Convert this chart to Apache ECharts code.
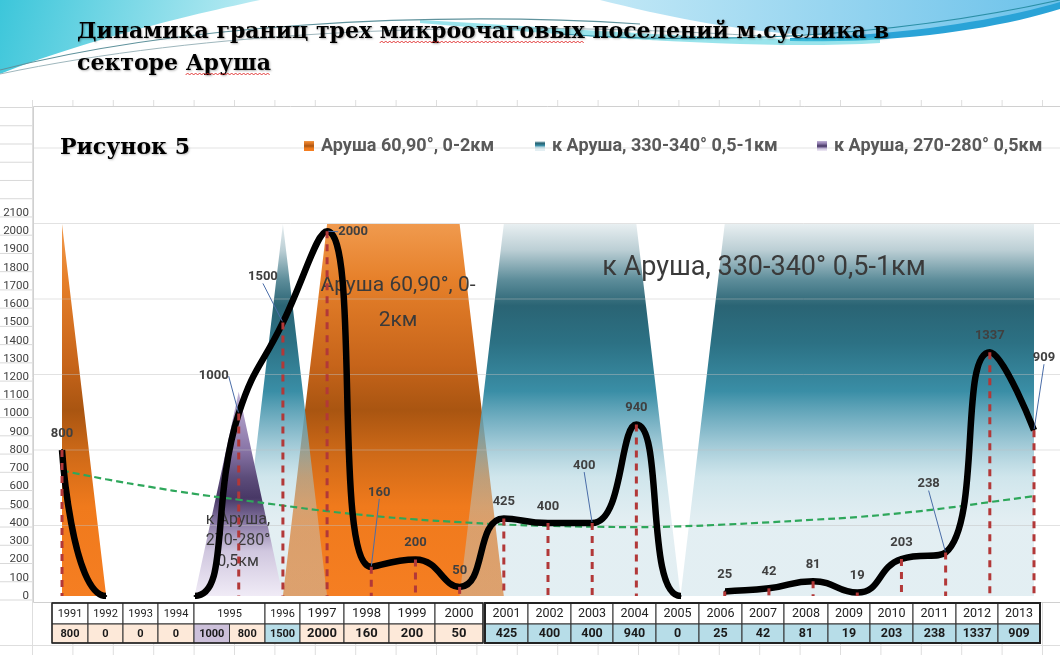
<!DOCTYPE html>
<html><head><meta charset="utf-8">
<script src="https://cdn.jsdelivr.net/npm/echarts@6.0.0/dist/echarts.min.js"></script>
<style>html,body{margin:0;padding:0;background:#fff}#c{width:1060px;height:655px}</style>
</head><body><div id="c"></div>
<script>
// ---------------- DATA ----------------
const titleLines = ['Динамика границ трех микроочаговых поселений м.суслика в', 'секторе Аруша'];
const figureLabel = 'Рисунок 5';
const years = ['1991','1992','1993','1994','1995','1996','1997','1998','1999','2000','2001','2002','2003','2004','2005','2006','2007','2008','2009','2010','2011','2012','2013'];
// boundary of settlements (black curve)
const borderValues = [800,0,0,0,1000,1500,2000,160,200,50,425,400,400,940,0,25,42,81,19,203,238,1337,909];
// polynomial trend (green dashed)
const trendValues = [688,640,598,560,528,496,465,440,420,405,392,385,380,378,382,392,404,418,433,455,482,515,548];
// settlement zones (area shapes)
const orangeZone = [2040,0,0,0,0,0,2040,2040,2040,2040,0,0,0,0,0,0,0,0,0,0,0,0,0];
const tealZone   = [0,0,0,0,0,2040,0,0,0,0,2040,2040,2040,2040,0,2040,2040,2040,2040,2040,2040,2040,2040];
const purpleZone = [0,0,0,0,1120,0,0,0,0,0,0,0,0,0,0,0,0,0,0,0,0,0,0];
const seriesNames = ['Аруша 60,90°, 0-2км', 'к Аруша, 330-340° 0,5-1км', 'к Аруша, 270-280° 0,5км'];
const zoneCaptions = ['Аруша 60,90°, 0-\n2км', 'к Аруша, 330-340° 0,5-1км', 'к Аруша,\n270-280°\n0,5км'];
// data table below the chart
const tableValues = [[800],[0],[0],[0],[1000,800],[1500],[2000],[160],[200],[50],[425],[400],[400],[940],[0],[25],[42],[81],[19],[203],[238],[1337],[909]];
const tableZones  = [['o'],['o'],['o'],['o'],['p','o'],['t'],['o'],['o'],['o'],['o'],['t'],['t'],['t'],['t'],['t'],['t'],['t'],['t'],['t'],['t'],['t'],['t'],['t']];
const yMin = 0, yMax = 2100, yStep = 100;

// ---------------- LAYOUT / STYLE ----------------
const colEdges = [52,88,123,158,194,265,300,344,389,435,483,528,571,613,656,699,742,784,828,870,913,956,998,1040];
const table2Start = 10;
const labelShift = {4:[-25,-21],5:[-20,-29],6:[26,17],7:[8,-58],12:[-8,-41],20:[-17,-52],22:[10,-56]};
const leaderIdx = [4,5,6,7,12,20,22];
// stretches of the curve hidden along the baseline (as in the original picture), in category-index units
const hiddenStretches = [[1.05,3.0],[14.05,14.55]];
const zoneFill = {o:'#fde9d9', p:'#ccc0da', t:'#b7dde8'};
const calibri = 'Roboto, "Liberation Sans", sans-serif';
const serifName = '"DejaVu Serif", "Liberation Serif", serif';
const titleSize = 22, titleLeft = 72, titleTop = 11, titleLH = 32;

const grad = (stops) => new echarts.graphic.LinearGradient(0,0,0,1, stops.map(s=>({offset:s[0], color:s[1]})));
const orangeGrad = grad([[0,'#f09a4e'],[0.15,'#e6802a'],[0.38,'#c6641a'],[0.5,'#a95511'],[0.62,'#cf6a18'],[0.76,'#f07a1c'],[1,'#f57e22']]);
const tealGrad = grad([[0,'#e8eff1'],[0.07,'#bccfd5'],[0.15,'#5d8d9a'],[0.22,'#2a6474'],[0.32,'#2c7184'],[0.45,'#3a8ea6'],[0.56,'rgba(110,172,192,0.8)'],[0.68,'rgba(160,204,217,0.5)'],[0.8,'rgba(185,214,224,0.4)'],[1,'rgba(185,214,224,0.4)']]);
const purpleGrad = grad([[0,'#c2b4d8'],[0.28,'#8a76a8'],[0.42,'#5c4c7a'],[0.52,'#483866'],[0.64,'#8878a4'],[0.78,'#d0c7df'],[1,'#f0ebf6']]);

function bez(p0,p1,p2,p3,n){const pts=[];for(let k=0;k<=n;k++){const t=k/n,u=1-t;pts.push([u*u*u*p0[0]+3*u*u*t*p1[0]+3*u*t*t*p2[0]+t*t*t*p3[0], u*u*u*p0[1]+3*u*u*t*p1[1]+3*u*t*t*p2[1]+t*t*t*p3[1]]);}return pts;}

const graphics = [];
// slide decoration (top swooshes)
graphics.push({type:'polygon', z:0, shape:{points:[[0,0],[260,0]].concat(bez([260,0],[175,18],[75,44],[0,74],30))},
  style:{fill:new echarts.graphic.LinearGradient(0,0,1,1,[{offset:0,color:'#3cc6da'},{offset:1,color:'#c4eef5'}])}});
graphics.push({type:'polygon', z:0, shape:{points:[[600,0],[1060,0],[1060,4]].concat(bez([1060,4],[1000,22],[930,36],[850,36],20)).concat(bez([850,36],[760,36],[680,20],[600,0],20))},
  style:{fill:new echarts.graphic.LinearGradient(0,0,1,0,[{offset:0,color:'#c2e8f6'},{offset:1,color:'#6cc2ea'}])}});
graphics.push({type:'polygon', z:0, shape:{points:bez([790,38],[900,36],[1000,20],[1060,2],20).concat(bez([1060,9],[1000,28],[900,44],[790,41],20))}, style:{fill:'#2aa3d7'}});
graphics.push({type:'polygon', z:0, shape:{points:bez([420,20],[600,30],[760,44],[880,37],20).concat(bez([880,43],[760,50],[600,38],[420,23],20))}, style:{fill:'rgba(70,205,220,0.55)'}});
graphics.push({type:'bezierCurve', z:0, shape:{x1:0,y1:70,cpx1:170,cpy1:26,cpx2:420,cpy2:10,x2:640,y2:24}, style:{stroke:'#5f929c',lineWidth:1.2,fill:null}});
graphics.push({type:'bezierCurve', z:0, shape:{x1:0,y1:74,cpx1:200,cpy1:32,cpx2:470,cpy2:18,x2:760,y2:36}, style:{stroke:'#9fb7bd',lineWidth:1,fill:null}});
graphics.push({type:'bezierCurve', z:0, shape:{x1:560,y1:34,cpx1:700,cpy1:44,cpx2:880,cpy2:40,x2:1060,y2:0}, style:{stroke:'#2b8fa6',lineWidth:1.2,fill:null}});

// spell-check squiggles under two title words
(function(){
  const ctx = document.createElement('canvas').getContext('2d');
  ctx.font = 'bold ' + titleSize + 'px ' + serifName;
  const marks = [[0,'Динамика границ трех ','микроочаговых'],[1,'секторе ','Аруша']];
  marks.forEach(m=>{
    const x0 = titleLeft + 5 + ctx.measureText(m[1]).width, w = ctx.measureText(m[2]).width;
    const y = titleTop + 5 + titleLH*m[0] + titleLH/2 + 10;
    const pts = []; for (let x=0, k=0; x<=w; x+=2, k++) pts.push([x0+x, y + (k%2 ? -1 : 1)]);
    graphics.push({type:'polyline', z:7, shape:{points:pts}, style:{stroke:'#e02828', lineWidth:0.9, fill:null}});
  });
})();

// spreadsheet background
for (let k=0;k<27;k++){ const x = 32.5 + k*40.4; graphics.push({type:'line', z:0, shape:{x1:x,y1:100,x2:x,y2:655}, style:{stroke:'#dedede',lineWidth:1}}); }
for (let k=0;k<=27;k++){ const y = 600 - k*18.24; graphics.push({type:'line', z:0, shape:{x1:0,y1:y,x2:32,y2:y}, style:{stroke:'#d9d9d9',lineWidth:1}}); }
graphics.push({type:'line', z:0, shape:{x1:0,y1:645.5,x2:1060,y2:645.5}, style:{stroke:'#dedede',lineWidth:1}});
// chart box
graphics.push({type:'rect', z:1, shape:{x:33.5,y:106.5,width:1040,height:496}, style:{fill:'#ffffff',stroke:'#d0d0d0',lineWidth:1}});
// faint cell lines seen across the chart
for (let k=0;k<6;k++){ const y = 148 + k*75.5; graphics.push({type:'line', z:3, shape:{x1:34,y1:y,x2:1060,y2:y}, style:{stroke:'rgba(190,190,190,0.45)',lineWidth:1}}); }

// zone captions
const capPos = [[398,303,21,35],[764,268,27,30],[238,541,16,21]];
zoneCaptions.forEach((t,i)=>{ const p = capPos[i];
  graphics.push({type:'text', z:3, x:p[0], y:p[1], style:{text:t, fontFamily:calibri, fontSize:p[2], lineHeight:p[3], fill:'#3a3a3a', align:'center', verticalAlign:'middle'}});
});

// data table
const rowTop = 603, rowMid = 624, rowBot = 643;
tableValues.forEach((vals,c)=>{
  const x0 = (c===table2Start) ? 485 : colEdges[c], x1 = colEdges[c+1];
  const small = c < 6, big = c>=6 && c<10;
  const fs = small ? 11 : (big ? 13 : 12.5);
  graphics.push({type:'rect', z:10, shape:{x:x0,y:rowTop,width:x1-x0,height:rowMid-rowTop}, style:{fill:'#ffffff',stroke:'#333',lineWidth:1}});
  graphics.push({type:'text', z:11, x:(x0+x1)/2, y:(rowTop+rowMid)/2+0.5, style:{text:years[c], fontFamily:calibri, fontSize:fs, fill:'#222', align:'center', verticalAlign:'middle'}});
  const n = vals.length;
  vals.forEach((v,k)=>{
    const cx0 = x0 + (x1-x0)*k/n, cx1 = x0 + (x1-x0)*(k+1)/n;
    graphics.push({type:'rect', z:10, shape:{x:cx0,y:rowMid,width:cx1-cx0,height:rowBot-rowMid}, style:{fill:zoneFill[tableZones[c][k]],stroke:'#333',lineWidth:1}});
    graphics.push({type:'text', z:11, x:(cx0+cx1)/2, y:(rowMid+rowBot)/2+0.5, style:{text:String(v), fontFamily:calibri, fontWeight:'bold', fontSize:fs, fill:'#1a1a1a', align:'center', verticalAlign:'middle'}});
  });
});
graphics.push({type:'rect', z:12, shape:{x:485,y:rowTop,width:colEdges[colEdges.length-1]-485,height:rowBot-rowTop}, style:{fill:null,stroke:'#222',lineWidth:2}});
graphics.push({type:'rect', z:12, shape:{x:colEdges[0],y:rowTop,width:colEdges[table2Start]-colEdges[0],height:rowBot-rowTop}, style:{fill:null,stroke:'#222',lineWidth:1.3}});

// ---------------- CHART ----------------
const chart = echarts.init(document.getElementById('c'));
const legendFills = [orangeGrad, tealGrad, purpleGrad];
const legendLeft = [299, 530, 812];
const curvePieces = [];
{ let prev = -1;
  hiddenStretches.forEach(h=>{ curvePieces.push({gt:prev, lte:h[0], color:'#000'}); curvePieces.push({gt:h[0], lt:h[1], color:'rgba(0,0,0,0)'}); prev = h[1] - 1e-6; });
  curvePieces.push({gt:prev, lte:100, color:'#000'}); }
const option = {
  backgroundColor: '#ffffff',
  animation: false,
  title: [
    {text: titleLines.join('\n'), left: titleLeft, top: titleTop, textStyle:{fontFamily:serifName, fontWeight:'bold', fontSize:titleSize, lineHeight:titleLH, color:'#000',
      textShadowColor:'rgba(0,0,0,0.3)', textShadowBlur:2, textShadowOffsetX:1, textShadowOffsetY:1}},
    {text: figureLabel, left: 55, top: 128, textStyle:{fontFamily:serifName, fontWeight:'bold', fontSize:22, lineHeight:30, color:'#000',
      textShadowColor:'rgba(0,0,0,0.25)', textShadowBlur:2, textShadowOffsetX:1, textShadowOffsetY:1}}
  ],
  legend: seriesNames.map((nm,i)=>({
    left: legendLeft[i], top: 132, itemWidth: 10, itemHeight: 10, icon:'rect', selectedMode:false, itemGap: 7,
    data:[{name:nm, itemStyle:{color:legendFills[i]}}],
    textStyle:{fontFamily:calibri, fontWeight:'bold', fontSize:18, color:'#595959', padding:[0,0,0,2]}
  })),
  visualMap: {type:'piecewise', show:false, seriesIndex:4, dimension:0, pieces: curvePieces},
  grid: {left: 62, right: 26, top: 213, bottom: 59},
  xAxis: {type:'category', data: years, boundaryGap:false, axisLine:{show:false}, axisTick:{show:false}, axisLabel:{show:false}, splitLine:{show:false}},
  yAxis: {type:'value', min:yMin, max:yMax, interval:yStep, offset:29,
    axisLine:{show:false}, axisTick:{show:false}, splitLine:{show:false},
    axisLabel:{margin:4, fontSize:11.5, color:'#404040', fontFamily:calibri, formatter:(v)=>String(v)}},
  graphic: {elements: graphics},
  series: [
    {name:seriesNames[0], type:'line', data:orangeZone, symbol:'none', z:2, lineStyle:{width:0}, itemStyle:{color:orangeGrad}, areaStyle:{color:orangeGrad, opacity:1}},
    {name:seriesNames[1], type:'line', data:tealZone, symbol:'none', z:2, lineStyle:{width:0}, itemStyle:{color:tealGrad}, areaStyle:{color:tealGrad, opacity:1}},
    {name:seriesNames[2], type:'line', data:purpleZone, symbol:'none', z:2, lineStyle:{width:0}, itemStyle:{color:purpleGrad}, areaStyle:{color:purpleGrad, opacity:1}},
    {name:'trend', type:'line', data:trendValues, symbol:'none', smooth:true, z:4,
      lineStyle:{color:'#2ea75b', width:2.2, type:[7,4]}},
    {name:'boundary', type:'line', z:5, smooth:0.5, symbol:'circle', symbolSize:2, showSymbol:true,
      lineStyle:{width:6.5},
      data: borderValues.map((v,i)=>({value:v, label:{show: v!==0}, labelLine:{show: leaderIdx.includes(i)}})),
      label:{show:true, position:'top', distance:9, fontFamily:calibri, fontWeight:'bold', fontSize:13, color:'#404040'},
      labelLine:{show:false, lineStyle:{color:'#4a6da8', width:1}},
      labelLayout:(p)=>{ const s = labelShift[p.dataIndex]; return s ? {dx:s[0], dy:s[1]} : {}; }
    },
    {name:'drop', type:'custom', z:6, data: borderValues.map((v,i)=>[i,v]),
      renderItem:(params, api)=>{ const v = api.value(1); if (!v) return null;
        const a = api.coord([api.value(0), v]), b = api.coord([api.value(0), 0]);
        return {type:'line', shape:{x1:a[0],y1:a[1],x2:b[0],y2:b[1]}, style:{stroke:'#b23838', lineWidth:3, lineDash:[7,6]}}; }
    }
  ]
};
chart.setOption(option);
</script>
</body></html>
